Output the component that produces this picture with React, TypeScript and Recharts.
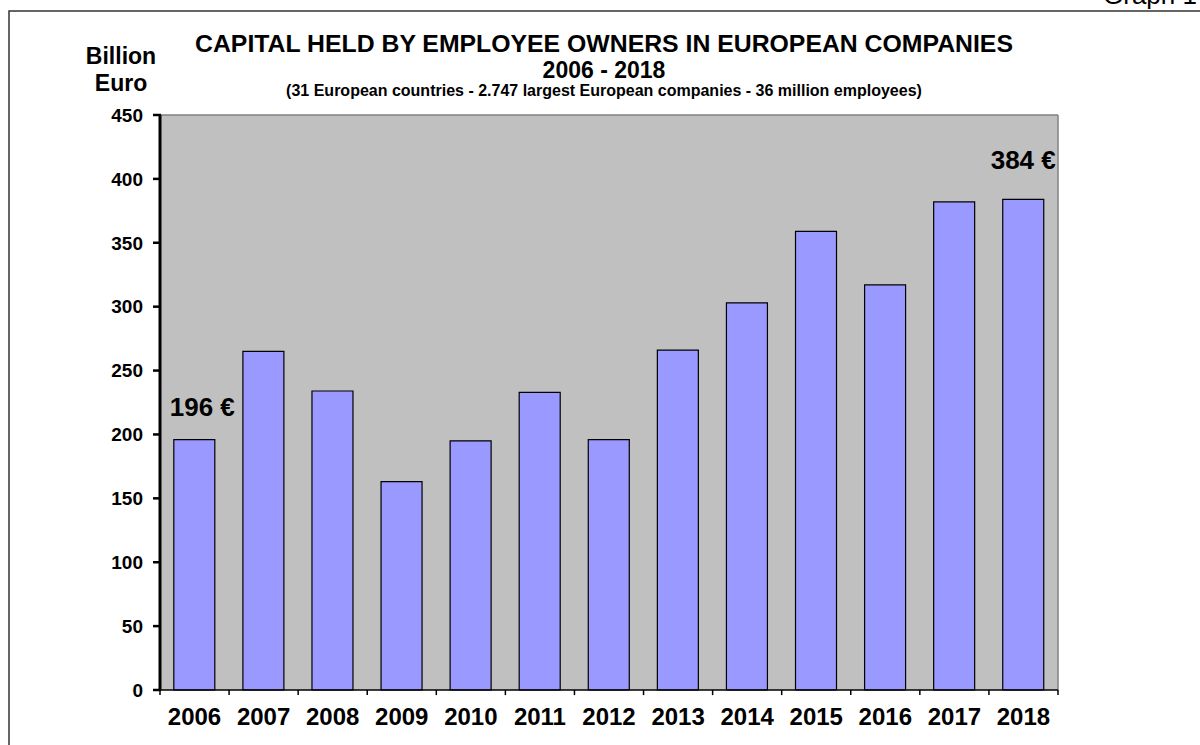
import { BarChart, Bar, XAxis, YAxis, CartesianGrid, LabelList, ReferenceLine } from 'recharts';

// Capital held by employee owners, billion euro
const years = ['2006', '2007', '2008', '2009', '2010', '2011', '2012', '2013', '2014', '2015', '2016', '2017', '2018'];
const capital = [196, 265, 234, 163, 195, 233, 196, 266, 303, 359, 317, 382, 384];
const annotations = ['196 €', '', '', '', '', '', '', '', '', '', '', '', '384 €'];
const yTicks = [0, 50, 100, 150, 200, 250, 300, 350, 400, 450];

const data = years.map((year, i) => ({ year, capital: capital[i], note: annotations[i] }));

const FONT = '"Liberation Sans", Arial, Helvetica, sans-serif';
const lastYear = years[years.length - 1];

const NoteLabel = (props: any) => {
  const { x, y, width, index, value } = props;
  if (!value) return null;
  const first = index === 0;
  return (
    <text
      x={x + width / 2 + (first ? 8 : 0)}
      y={y - (first ? 24 : 30)}
      textAnchor="middle"
      fontSize={26}
      fontWeight="bold"
      fontFamily={FONT}
      fill="#000"
    >
      {value}
    </text>
  );
};

// y tick: label plus the little outside tick mark
const YTick = (props: any) => {
  const { x, y, payload } = props;
  return (
    <g>
      <path d={`M${x + 10},${y}H${x + 18}`} stroke="#000" strokeWidth={2.5} />
      <text x={x} y={y} dy="0.355em" textAnchor="end" fontSize={19} fontWeight="bold" fontFamily={FONT} fill="#000">
        {payload.value}
      </text>
    </g>
  );
};

export default function App() {
  return (
    <div style={{ position: 'absolute', left: 0, top: 0, width: 1200, height: 745, background: '#fff', fontFamily: FONT }}>
      <BarChart
        width={1200}
        height={745}
        data={data}
        margin={{ top: 115, right: 142, bottom: 0, left: 80 }}
        barCategoryGap="20%"
      >
        <CartesianGrid fill="#C0C0C0" horizontal={false} vertical={false} />
        <XAxis
          dataKey="year"
          interval={0}
          height={55}
          tickSize={6}
          tickMargin={12}
          axisLine={false}
          tickLine={false}
          tick={{ fill: '#000', fontSize: 24, fontWeight: 'bold', fontFamily: FONT }}
        />
        <YAxis
          domain={[0, 450]}
          ticks={yTicks}
          interval={0}
          width={80}
          tickSize={5}
          tickMargin={12}
          axisLine={false}
          tickLine={false}
          tick={YTick}
        />
        {/* plot frame: grey top/right, black axes left/bottom */}
        <ReferenceLine y={450} stroke="#808080" strokeWidth={1.5} />
        <ReferenceLine x={lastYear} position="end" ifOverflow="visible" stroke="#808080" strokeWidth={1.5} />
        <Bar dataKey="capital" fill="#9999FF" stroke="#000" strokeWidth={1.2} isAnimationActive={false}>
          <LabelList dataKey="note" content={NoteLabel} />
        </Bar>
        <ReferenceLine x={years[0]} position="start" ifOverflow="visible" stroke="#000" strokeWidth={3} />
        <ReferenceLine y={0} stroke="#000" strokeWidth={1.5} />
        {/* x tick marks between categories */}
        {years.map((yr) => (
          <ReferenceLine
            key={yr}
            position="start"
            ifOverflow="visible"
            segment={[{ x: yr, y: 0 }, { x: yr, y: -4 }]}
            stroke="#000"
            strokeWidth={1.5}
          />
        ))}
        <ReferenceLine
          position="end"
          ifOverflow="visible"
          segment={[{ x: lastYear, y: 0 }, { x: lastYear, y: -4 }]}
          stroke="#000"
          strokeWidth={1.5}
        />
      </BarChart>

      <svg
        width={1200}
        height={745}
        style={{ position: 'absolute', left: 0, top: 0, pointerEvents: 'none' }}
        fontFamily={FONT}
      >
        <path d="M9 745 L9 11 L1200 11" fill="none" stroke="#333" strokeWidth={1.5} />
        <text x={1103} y={4} fontSize={26} fill="#000">Graph 1</text>
        <text x={121} y={64} textAnchor="middle" fontSize={23} fontWeight="bold">Billion</text>
        <text x={121} y={91} textAnchor="middle" fontSize={23} fontWeight="bold">Euro</text>
        <text x={604} y={52} textAnchor="middle" fontSize={24.8} fontWeight="bold">
          CAPITAL HELD BY EMPLOYEE OWNERS IN EUROPEAN COMPANIES
        </text>
        <text x={604} y={78} textAnchor="middle" fontSize={23} fontWeight="bold">2006 - 2018</text>
        <text x={604} y={96} textAnchor="middle" fontSize={16} fontWeight="bold">
          (31 European countries - 2.747 largest European companies - 36 million employees)
        </text>
      </svg>
    </div>
  );
}
